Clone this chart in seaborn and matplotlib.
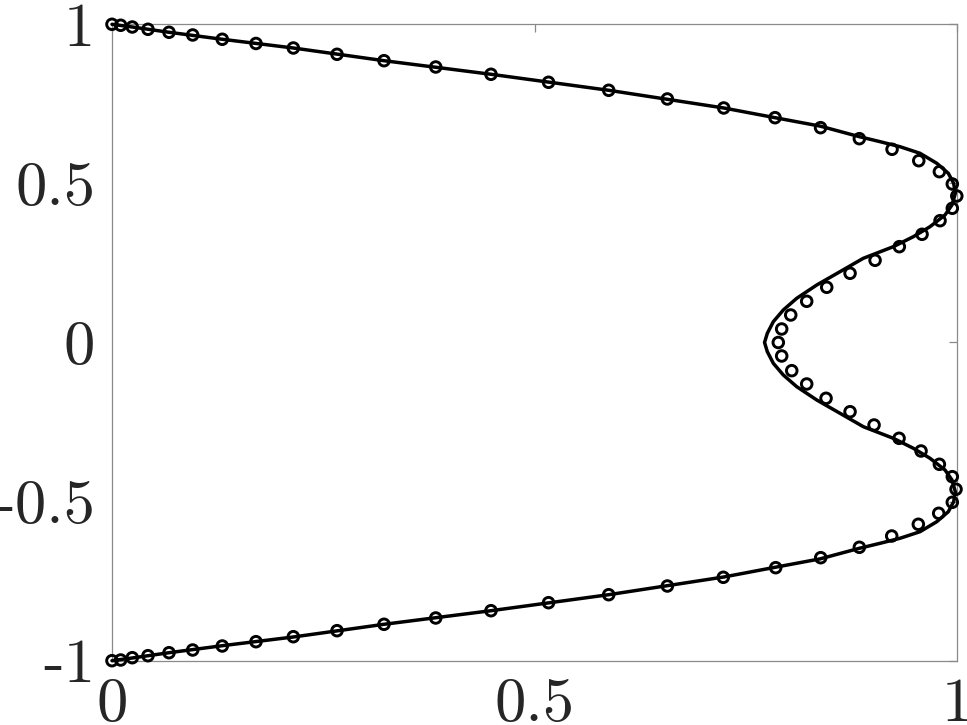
import numpy as np
import pandas as pd
import matplotlib
matplotlib.use('Agg')
import matplotlib.pyplot as plt
import seaborn as sns

# ---------- data ----------
# markers (open circles), top half y=1 -> 0, then bottom half 0 -> -1
marker_x_top = [0.0, 0.0103, 0.024, 0.0426, 0.0675, 0.0955, 0.1305, 0.1704, 0.2146,
                0.2663, 0.3219, 0.3831, 0.4485, 0.5166, 0.5878, 0.6572, 0.7239, 0.7846,
                0.8385, 0.8844, 0.9231, 0.9547, 0.9791, 0.9944, 0.9997, 0.9944, 0.9799,
                0.9586, 0.9317, 0.9030, 0.8734, 0.8458, 0.8221, 0.8032, 0.7925, 0.7885]
marker_y_top = [1.0, 0.9969, 0.9915, 0.9843, 0.9749, 0.9664, 0.9529, 0.9397, 0.9255,
                0.9057, 0.8856, 0.8658, 0.8429, 0.8177, 0.7926, 0.7653, 0.7370, 0.7065,
                0.6751, 0.6405, 0.6072, 0.5713, 0.5368, 0.4981, 0.4604, 0.4218, 0.3828,
                0.3400, 0.3011, 0.2583, 0.2175, 0.1735, 0.1295, 0.0864, 0.0424, 0.0]
marker_x_bot = [0.7925, 0.8044, 0.8221, 0.8450, 0.8734, 0.9018, 0.9314, 0.9574, 0.9791,
                0.9944, 0.9988, 0.9944, 0.9783, 0.9542, 0.9227, 0.8844, 0.8387, 0.7854,
                0.7234, 0.6572, 0.5878, 0.5166, 0.4485, 0.3831, 0.3219, 0.2663, 0.2146,
                0.1704, 0.1305, 0.0955, 0.0675, 0.0426, 0.024, 0.0103, 0.0]
marker_y_bot = [-0.0424, -0.0886, -0.1304, -0.1754, -0.2175, -0.2593, -0.3011, -0.3410,
                -0.3828, -0.4218, -0.4613, -0.5022, -0.5368, -0.5713, -0.6081, -0.6436,
                -0.6763, -0.7077, -0.7379, -0.7653, -0.7926, -0.8177, -0.8429, -0.8658,
                -0.8856, -0.9057, -0.9246, -0.9403, -0.9538, -0.9664, -0.9749, -0.9843,
                -0.9906, -0.9978, -1.0]

# solid curve
line_x_top = [0.0, 0.024, 0.0675, 0.1305, 0.2146, 0.3219, 0.4485, 0.5878, 0.7239, 0.7846,
              0.838, 0.8844, 0.9089, 0.9325, 0.9562, 0.9760, 0.9897, 0.9960, 0.998,
              0.9940, 0.9858, 0.9680, 0.9483, 0.9246, 0.8891, 0.8615, 0.8340, 0.8103,
              0.7944, 0.7826, 0.7755, 0.7722]
line_y_top = [1.0, 0.9915, 0.9749, 0.9529, 0.9255, 0.8856, 0.8429, 0.7926, 0.7370, 0.7065,
              0.680, 0.6468, 0.6311, 0.6153, 0.5946, 0.5632, 0.5317, 0.5003, 0.4689,
              0.4321, 0.4007, 0.3639, 0.3325, 0.3011, 0.2646, 0.2225, 0.1807, 0.1389,
              0.1021, 0.0654, 0.0289, 0.0]
line_x_bot = [0.7755, 0.7826, 0.7944, 0.8103, 0.8340, 0.8615, 0.8891, 0.9246, 0.9483,
              0.9680, 0.9858, 0.9940, 0.998, 0.9960, 0.9897, 0.9760, 0.9562, 0.9325,
              0.9089, 0.8844, 0.838, 0.7846, 0.7239, 0.5878, 0.4485, 0.3219,
              0.2146, 0.1305, 0.0675, 0.024, 0.0]
line_y_bot = [-0.0289, -0.0654, -0.1021, -0.1389, -0.1807, -0.2225, -0.2646, -0.3011,
              -0.3325, -0.3639, -0.4007, -0.4321, -0.4689, -0.5003, -0.5317, -0.5632,
              -0.5946, -0.6153, -0.6311, -0.6468, -0.680, -0.7065, -0.7370,
              -0.7926, -0.8429, -0.8856, -0.9255, -0.9529, -0.9749, -0.9915, -1.0]

x_ticks = [0, 0.5, 1]
x_tick_labels = ['0', '0.5', '1']
y_ticks = [-1, -0.5, 0, 0.5, 1]
y_tick_labels = ['-1', '-0.5', '0', '0.5', '1']

# ---------- tables ----------
markers = pd.DataFrame({'x': marker_x_top + marker_x_bot,
                        'y': marker_y_top + marker_y_bot})
curve = pd.DataFrame({'x': line_x_top + line_x_bot,
                      'y': line_y_top + line_y_bot})

# ---------- plot ----------
sns.set_theme(style='white')
plt.rcParams['font.family'] = ['cmr10', 'DejaVu Serif']

fig = plt.figure(figsize=(9.67, 7.25), dpi=100)
ax = fig.add_axes([0.1158, 0.0887, 0.9897 - 0.1158, 0.9665 - 0.0887])

sns.lineplot(data=curve, x='x', y='y', sort=False, estimator=None, color='black',
             linewidth=2.5, ax=ax, clip_on=False, zorder=3)
sns.scatterplot(data=markers, x='x', y='y', marker='o', s=58, facecolor='none',
                edgecolor='black', linewidth=2.1, ax=ax, clip_on=False, zorder=4)

ax.set_xlim(0, 1)
ax.set_ylim(-1, 1)
ax.set_xticks(x_ticks)
ax.set_xticklabels(x_tick_labels)
ax.set_yticks(y_ticks)
ax.set_yticklabels(y_tick_labels)
ax.set_xlabel('')
ax.set_ylabel('')

for sp in ax.spines.values():
    sp.set_visible(True)
    sp.set_color('#8a8a8a')
    sp.set_linewidth(0.9)

ax.tick_params(axis='both', direction='in', length=6, width=0.9, color='#8a8a8a',
               top=True, right=True, labelsize=45, labelcolor='#262626', pad=12)

fig.savefig('out.png', dpi=100)
